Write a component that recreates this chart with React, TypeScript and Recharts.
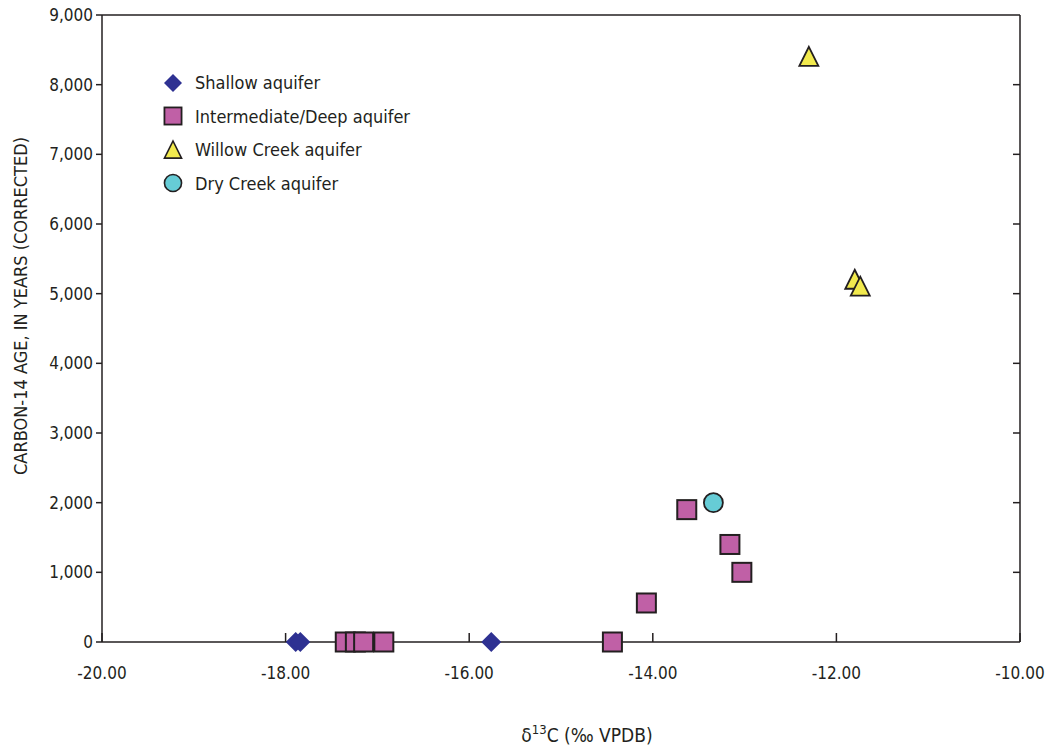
import { ScatterChart, Scatter, XAxis, YAxis, ReferenceLine } from "recharts";

const FONT = "'DejaVu Sans Condensed', Roboto, sans-serif";
const INK = "#231F20";

const xTicks = [-20, -18, -16, -14, -12, -10];
const yTicks = [0, 1000, 2000, 3000, 4000, 5000, 6000, 7000, 8000, 9000];

const shallowD13C = [-17.89, -17.84, -15.76];
const shallowAge = [0, 0, 0];

const deepD13C = [-17.35, -17.24, -17.15, -16.93, -14.44, -14.07, -13.63, -13.16, -13.03];
const deepAge = [0, 0, 0, 0, 0, 560, 1900, 1400, 1000];

const willowD13C = [-12.3, -11.8, -11.74];
const willowAge = [8400, 5200, 5100];

const dryD13C = [-13.34];
const dryAge = [2000];

const toPoints = (xs: number[], ys: number[]) => xs.map((x, i) => ({ x, y: ys[i] }));

const colors = {
  shallow: "#2E3192",
  deep: "#C060A6",
  willow: "#F2EA4E",
  dry: "#66CCD6",
};

const Diamond = ({ cx, cy }: any) => (
  <path d={`M${cx},${cy - 10} L${cx + 10},${cy} L${cx},${cy + 10} L${cx - 10},${cy} Z`} fill={colors.shallow} />
);
const Square = ({ cx, cy }: any) => (
  <rect x={cx - 9.5} y={cy - 9.5} width={19} height={19} fill={colors.deep} stroke={INK} strokeWidth={2} />
);
const Triangle = ({ cx, cy }: any) => (
  <path d={`M${cx},${cy - 10} L${cx + 9.5},${cy + 9} L${cx - 9.5},${cy + 9} Z`} fill={colors.willow} stroke={INK} strokeWidth={1.8} />
);
const Circle = ({ cx, cy }: any) => (
  <circle cx={cx} cy={cy} r={9.5} fill={colors.dry} stroke={INK} strokeWidth={1.8} />
);

const legendItems = [
  { label: "Shallow aquifer", Icon: Diamond },
  { label: "Intermediate/Deep aquifer", Icon: Square },
  { label: "Willow Creek aquifer", Icon: Triangle },
  { label: "Dry Creek aquifer", Icon: Circle },
];

const XTick = ({ x, y, payload }: any) => (
  <g>
    <line x1={x} x2={x} y1={y} y2={y - 9} stroke={INK} strokeWidth={1.5} />
    <text x={x} y={y + 37} textAnchor="middle" fontFamily={FONT} fontSize={17} fill={INK}>
      {payload.value.toFixed(2)}
    </text>
  </g>
);

const YTick = ({ x, y, payload }: any) => (
  <g>
    <line x1={x} x2={x - 6} y1={y} y2={y} stroke={INK} strokeWidth={1.5} />
    <text x={x - 9} y={y + 6} textAnchor="end" fontFamily={FONT} fontSize={17} fill={INK}>
      {payload.value.toLocaleString("en-US")}
    </text>
  </g>
);

// short inward tick on the right frame, drawn at the end of a horizontal reference line
const RightTick = (p: any) => {
  const x2 = Math.max(p.x1, p.x2);
  return <line x1={x2} x2={x2 - 7} y1={p.y1} y2={p.y2} stroke={INK} strokeWidth={1.5} />;
};

const YLabel = () => (
  <text
    x={27}
    y={306}
    transform="rotate(-90, 27, 306)"
    textAnchor="middle"
    fontFamily={FONT}
    fontSize={18}
    fill={INK}
  >
    CARBON-14 AGE, IN YEARS (CORRECTED)
  </text>
);

const XLabel = () => (
  <text x={587} y={742} textAnchor="middle" fontFamily={FONT} fontSize={19} fill={INK}>
    δ<tspan dy={-8} fontSize={13}>13</tspan>
    <tspan dy={8}>C (‰ VPDB)</tspan>
  </text>
);

export default function App() {
  return (
    <div style={{ position: "absolute", left: 0, top: 0, width: 1046, height: 748, background: "#fff" }}>
      <ScatterChart width={1046} height={748} margin={{ top: 15, right: 26, left: 0, bottom: 0 }}>
        <XAxis
          type="number"
          dataKey="x"
          domain={[-20, -10]}
          ticks={xTicks}
          height={106}
          tickSize={0}
          tickMargin={0}
          tick={<XTick />}
          axisLine={{ stroke: INK, strokeWidth: 1.5 }}
          tickLine={false}
        />
        <YAxis
          type="number"
          dataKey="y"
          domain={[0, 9000]}
          ticks={yTicks}
          width={102}
          tickSize={0}
          tickMargin={0}
          tick={<YTick />}
          axisLine={{ stroke: INK, strokeWidth: 1.5 }}
          tickLine={false}
          label={<YLabel />}
        />
        <ReferenceLine x={-10} stroke={INK} strokeWidth={1.5} />
        <ReferenceLine y={9000} stroke={INK} strokeWidth={1.5} />
        {yTicks.slice(1, -1).map((t) => (
          <ReferenceLine key={t} y={t} shape={<RightTick />} />
        ))}
        <Scatter name="Shallow aquifer" data={toPoints(shallowD13C, shallowAge)} shape={<Diamond />} isAnimationActive={false} />
        <Scatter name="Intermediate/Deep aquifer" data={toPoints(deepD13C, deepAge)} shape={<Square />} isAnimationActive={false} />
        <Scatter name="Willow Creek aquifer" data={toPoints(willowD13C, willowAge)} shape={<Triangle />} isAnimationActive={false} />
        <Scatter name="Dry Creek aquifer" data={toPoints(dryD13C, dryAge)} shape={<Circle />} isAnimationActive={false} />
        <XLabel />
      </ScatterChart>
      <div style={{ position: "absolute", left: 161, top: 66, fontFamily: FONT, fontSize: 18, color: INK }}>
        {legendItems.map(({ label, Icon }) => (
          <div key={label} style={{ display: "flex", alignItems: "center", height: 33.5 }}>
            <svg width={24} height={24} style={{ marginRight: 10 }}>
              <g transform="translate(1.2,1.2) scale(0.9)">
                <Icon cx={12} cy={12} />
              </g>
            </svg>
            <span>{label}</span>
          </div>
        ))}
      </div>
    </div>
  );
}
